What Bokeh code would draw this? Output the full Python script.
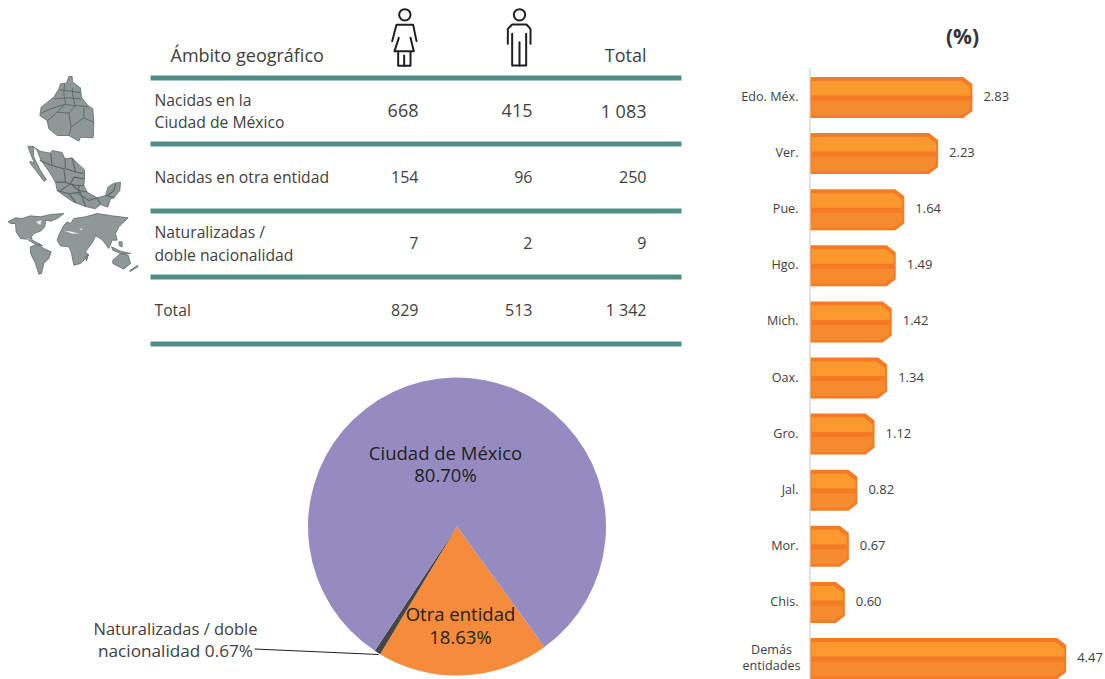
from bokeh.plotting import figure
from bokeh.models import Range1d
from bokeh.core.properties import value
from bokeh.embed import file_html
from bokeh.resources import INLINE
import math

# ---------- data ----------
states = ["Edo. Méx.", "Ver.", "Pue.", "Hgo.", "Mich.", "Oax.", "Gro.", "Jal.", "Mor.", "Chis.", "Demás\nentidades"]
state_pct = [2.83, 2.23, 1.64, 1.49, 1.42, 1.34, 1.12, 0.82, 0.67, 0.60, 4.47]
table_rows = [["Nacidas en la", "Ciudad de México"], ["Nacidas en otra entidad"],
              ["Naturalizadas /", "doble nacionalidad"], ["Total"]]
women = ["668", "154", "7", "829"]
men = ["415", "96", "2", "513"]
totals = ["1 083", "250", "9", "1 342"]
pie_labels = ["Otra entidad", "Naturalizadas / doble nacionalidad", "Ciudad de México"]
pie_pct = [18.63, 0.67, 80.70]
pie_colors = ["#F68B3C", "#454545", "#958BC1"]

FONT = value("Open Sans")
W, H = 1105, 679
p = figure(width=W, height=H, output_backend="svg", toolbar_location=None,
           x_range=Range1d(0, 1105), y_range=Range1d(0, 679), min_border=0)
p.axis.visible = False
p.grid.visible = False
p.outline_line_color = None
p.background_fill_color = "white"

def Y(py):
    return 679 - py

def txt(x, y, s, size, color="#404040", align="left", style="normal", base="alphabetic", **kw):
    p.text([x], [Y(y)], text=[s], text_font=FONT, text_font_size=f"{size}px", text_color=color,
           text_align=align, text_baseline=base, text_font_style=style, **kw)

# ---------- table ----------
for py in [77.5, 143.5, 210.5, 276.5, 343.5]:
    p.line([150, 681], [Y(py), Y(py)], line_color="#4F8F86", line_width=5)

txt(170, 54, "Ámbito geográfico", 18)
txt(646, 54, "Total", 18, align="right")
label_base = [[99, 121], [176], [231, 254], [309]]
num_base = [110, 176, 242, 309]
num_size = [18, 16, 16, 16]
for i, row in enumerate(table_rows):
    for line, b in zip(row, label_base[i]):
        txt(154, b, line, 15.7)
    txt(418, num_base[i], women[i], num_size[i], align="right")
    txt(532, num_base[i], men[i], num_size[i], align="right")
    txt(646, num_base[i], totals[i], num_size[i], align="right")

# ---------- icons ----------
def zx(x): return 370 + x / 3
def zy(y): return y / 3
def stroke(points, width=2.0):
    p.line([zx(a) for a, b in points], [Y(zy(b)) for a, b in points], line_color="#1F1F1F",
           line_width=width, line_cap="round", line_join="round")
for c in (103, 447):
    p.circle([zx(c)], [Y(zy(43))], radius=5.7, radius_units="screen", fill_color=None,
             line_color="#1F1F1F", line_width=2)
stroke([(65, 122), (78, 73), (128, 73), (138, 122)])
stroke([(85, 112), (72, 152), (130, 152), (120, 112)])
stroke([(83, 155), (83, 196), (120, 196), (120, 155)])
stroke([(101, 165), (101, 196)])
stroke([(412, 130), (412, 85), (425, 72), (468, 72), (480, 85), (480, 130)])
stroke([(425, 100), (425, 195), (467, 195), (467, 100)])
stroke([(447, 125), (447, 195)])

# ---------- maps ----------
def shape(points, ox=0, oy=0, lw=0.8, fill="#8F9896", line="#5F6B69"):
    p.patch([ox + a / 3 for a, b in points], [Y(oy + b / 3) for a, b in points], fill_color=fill,
            line_color=line, line_width=lw)
def inner(points, ox=0, oy=0, lw=0.9):
    p.line([ox + a / 3 for a, b in points], [Y(oy + b / 3) for a, b in points], line_color="#5A6664", line_width=lw)

# Ciudad de México
shape([(205, 228), (215, 228), (216, 245), (240, 262), (243, 290), (262, 315), (277, 325), (280, 365),
       (278, 412), (240, 410), (235, 422), (205, 405), (170, 405), (145, 385), (140, 360), (118, 345),
       (122, 320), (160, 290), (175, 265), (180, 250), (198, 248)])
for seg in [[(178, 268), (210, 272), (240, 276)], [(160, 295), (200, 292), (243, 295)],
            [(192, 250), (190, 280), (195, 310), (170, 335), (140, 362)],
            [(215, 262), (218, 295), (225, 315), (205, 338), (212, 380), (205, 405)],
            [(122, 338), (150, 325), (190, 312), (225, 315), (262, 318)],
            [(170, 335), (205, 338)], [(212, 380), (250, 352), (280, 365)], [(250, 322), (250, 352)]]:
    inner(seg)

# República
MX, MY = 20, 140
shape([(38, 18), (58, 32), (90, 38), (95, 30), (125, 36), (133, 55), (155, 52), (175, 72), (192, 88), (192, 115),
       (190, 135), (200, 155), (230, 172), (255, 165), (262, 140), (280, 128), (300, 125), (298, 150), (280, 172),
       (270, 175), (262, 200), (240, 192), (225, 205), (195, 198), (160, 185), (130, 165), (110, 150), (105, 125),
       (85, 92), (62, 60), (50, 30)], MX, MY)
shape([(22, 17), (38, 18), (40, 50), (60, 90), (78, 118), (70, 122), (50, 95), (30, 70), (28, 62), (42, 68), (30, 40)], MX, MY)
for seg in [[(90, 38), (95, 75), (130, 85), (135, 125), (165, 135), (190, 135)],
            [(58, 60), (95, 75)], [(133, 55), (135, 85), (170, 95), (192, 100)], [(155, 52), (165, 95)],
            [(105, 125), (135, 125)], [(120, 150), (150, 130), (175, 150), (200, 155)],
            [(110, 150), (145, 160), (180, 155)], [(145, 160), (165, 185)], [(180, 155), (195, 198)],
            [(150, 130), (160, 110), (190, 115)], [(175, 135), (175, 160), (205, 180), (230, 172)],
            [(230, 172), (240, 192)], [(262, 165), (280, 150), (285, 130)], [(255, 165), (282, 172)]]:
    inner(seg, MX, MY, 1.1)

# Mundo
WX, WY = 5, 208
shape([(8, 40), (30, 28), (50, 30), (75, 22), (105, 25), (135, 18), (175, 15), (155, 30), (135, 38), (120, 35),
       (118, 55), (105, 68), (85, 75), (78, 85), (80, 95), (100, 105), (112, 112), (90, 108), (65, 92), (45, 90),
       (32, 70), (30, 45), (15, 45)], WX, WY)
shape([(75, 115), (95, 107), (115, 120), (137, 130), (130, 150), (115, 165), (108, 195), (100, 197), (90, 165), (75, 135)], WX, WY)
shape([(160, 80), (175, 50), (185, 40), (195, 45), (205, 30), (240, 25), (275, 15), (320, 22), (368, 28), (350, 45),
       (340, 55), (330, 75), (335, 95), (320, 95), (310, 120), (295, 100), (285, 90), (270, 82), (262, 100), (240, 130),
       (250, 140), (225, 165), (205, 170), (197, 130), (190, 115), (165, 112), (155, 95)], WX, WY)
shape([(322, 155), (345, 135), (368, 140), (375, 165), (355, 182), (322, 165)], WX, WY)
shape([(318, 115), (345, 128), (375, 135), (345, 135), (322, 125)], WX, WY)
shape([(340, 100), (350, 100), (350, 115), (342, 112)], WX, WY)
shape([(372, 187), (396, 171), (398, 174), (374, 189)], WX, WY)
shape([(240, 145), (248, 140), (243, 158)], WX, WY)
for hole in [[(172, 66), (195, 68), (225, 76), (200, 76)], [(220, 60), (232, 60), (228, 66)],
             [(62, 88), (80, 94), (66, 92)], [(90, 40), (108, 35), (105, 50)]]:
    shape(hole, WX, WY, lw=0.5, fill="white", line="#8F9896")

# ---------- pie ----------
cx, cy, r = 456.5, 526, 149
ang = math.radians(-54)
for pct, col in zip(pie_pct, pie_colors):
    end = ang - math.radians(pct * 3.6)
    p.wedge([cx], [Y(cy)], radius=r, radius_units="data", start_angle=end, end_angle=ang,
            fill_color=col, line_color=None)
    ang = end
txt(445, 452, "Ciudad de México", 18.5, color="#231F20", align="center")
txt(445, 474, "80.70%", 18.5, color="#231F20", align="center")
txt(460, 613, "Otra entidad", 18.5, color="#231F20", align="center")
txt(460, 635.5, "18.63%", 18.5, color="#231F20", align="center")
txt(175, 627.5, "Naturalizadas / doble", 16.5, align="center")
txt(175, 650, "nacionalidad 0.67%", 17.2, align="center")
p.line([254, 378], [Y(648.5), Y(654)], line_color="#1F1F1F", line_width=1)

# ---------- bars, through their own scales ----------
PX_PER_UNIT = 57.2
PX_PER_ROW = 56.1
x0_px, y0_px = 810, 97
p.extra_x_ranges["pct"] = Range1d((0 - x0_px) / PX_PER_UNIT, (1105 - x0_px) / PX_PER_UNIT)
p.extra_y_ranges["rank"] = Range1d((679 - y0_px) / PX_PER_ROW, (0 - y0_px) / PX_PER_ROW)
ry = (lambda px: px / PX_PER_ROW)
rx = (lambda px: px / PX_PER_UNIT)

p.line([809.5, 809.5], [Y(68), Y(679)], line_color="#D9D9D9", line_width=1.5)
def poly(xs, ys, color):
    p.patch(xs, ys, fill_color=color, line_color=None, x_range_name="pct", y_range_name="rank")

for i, (name, v) in enumerate(zip(states, state_pct)):
    top, bot = i - ry(20.5), i + ry(20.5)
    c = rx(9)
    poly([0, v - c, v, v, v - c, 0], [top, top, top + ry(7), bot - ry(7), bot, bot], "#F47B25")
    poly([rx(1), v - rx(11), v - rx(2), v - rx(2), rx(1)],
         [i - ry(16.5), i - ry(16.5), i - ry(10), i - ry(2), i - ry(2)], "#FA9A2E")
    poly([rx(1), v - rx(2), v - rx(2), v - rx(11), rx(1)],
         [i + ry(3), i + ry(3), i + ry(12), i + ry(18), i + ry(18)], "#F68A2E")
    p.text([v + rx(11)], [i - ry(1)], text=[f"{v:.2f}"], text_font=FONT, text_font_size="13px", text_color="#404040",
           text_baseline="middle", x_range_name="pct", y_range_name="rank")
    lines = name.split("\n")
    for j, line in enumerate(lines):
        off = (j - (len(lines) - 1) / 2) * ry(16) - ry(1)
        ax = rx(-12) if len(lines) == 1 else rx(-39)
        p.text([ax], [i + off], text=[line], text_font=FONT, text_font_size="12.6px", text_color="#404040",
               text_align="right" if len(lines) == 1 else "center", text_baseline="middle",
               x_range_name="pct", y_range_name="rank")

txt(962, 35, "(%)", 21, color="#333333", align="center", style="bold", base="middle")

open("out.html", "w").write(file_html(p, INLINE))
